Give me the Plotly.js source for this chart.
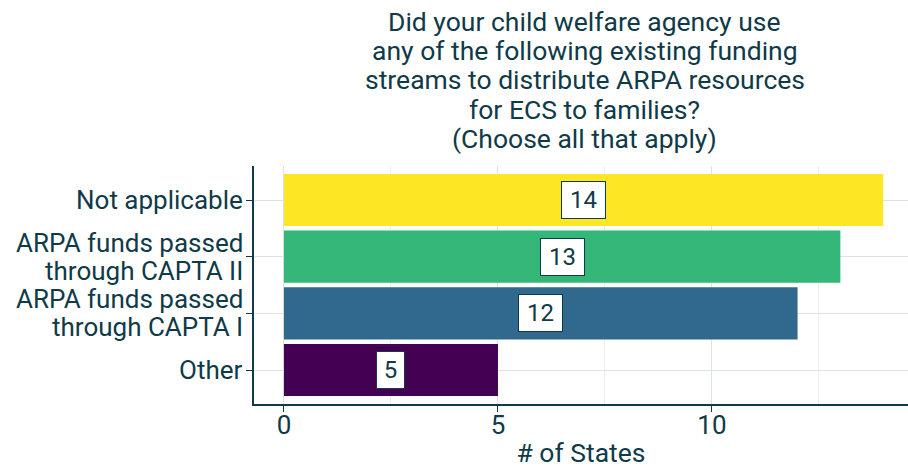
<!DOCTYPE html>
<html><head><meta charset="utf-8">
<script src="https://cdn.plot.ly/plotly-3.0.1.min.js"></script>
<style>html,body{margin:0;padding:0;background:#fff;}#chart{width:908px;height:468px;}</style>
</head><body><div id="chart"></div>
<script>
const categories = ["Other", "ARPA funds passed<br>through CAPTA I", "ARPA funds passed<br>through CAPTA II", "Not applicable"];
const values = [5, 12, 13, 14];
const barColors = ["#440154", "#31688E", "#35B779", "#FDE725"];
const titleLines = ["Did your child welfare agency use", "any of the following existing funding",
  "streams to distribute ARPA resources", "for ECS to families?", "(Choose all that apply)"];
const xTickVals = [0, 5, 10];
const xTickText = ["0", "5", "10"];
const textColor = "#0f3a48";

const trace = {
  type: "bar", orientation: "h",
  y: categories, x: values,
  marker: {color: barColors, line: {width: 0}},
  width: 0.92, hoverinfo: "none"
};
const annotations = values.map((v, i) => ({
  x: v / 2, y: categories[i], xref: "x", yref: "y",
  text: String(v), showarrow: false,
  width: String(v).length === 1 ? 19 : 35,
  font: {family: "Roboto", size: 24, color: textColor},
  bgcolor: "#ffffff", bordercolor: textColor, borderwidth: 1, borderpad: 4
}));
// Title lines, placed one per line for tight line spacing
const plotTop = 166, plotH = 238;
titleLines.forEach((t, i) => {
  const py = 22 + i * 29;
  annotations.push({
    text: t, xref: "paper", yref: "paper", x: 0.5055, y: (plotTop + plotH - py) / plotH,
    xanchor: "center", yanchor: "middle", showarrow: false,
    font: {family: "Roboto", size: 26.5, color: textColor}
  });
});
// Category labels, one annotation per line (tight line spacing as in the reference)
const lineOffset = 0.247;
categories.forEach((c, i) => {
  const parts = c.split("<br>");
  parts.forEach((p, j) => {
    const off = parts.length === 1 ? 0 : (j === 0 ? lineOffset : -lineOffset);
    annotations.push({
      text: p, xref: "paper", yref: "y", x: -0.0135, y: i + off,
      xanchor: "right", yanchor: "middle", showarrow: false,
      font: {family: "Roboto", size: 26, color: textColor}
    });
  });
});
const layout = {
  width: 908, height: 468,
  margin: {l: 254, r: 0, t: 166, b: 64},
  paper_bgcolor: "#fff", plot_bgcolor: "#fff",
  font: {family: "Roboto", color: textColor},
  xaxis: {range: [-0.7, 14.58], tickvals: xTickVals, ticktext: xTickText,
          showgrid: true, gridcolor: "#dde2e4", gridwidth: 1,
          minor: {tickvals: [2.5, 7.5, 12.5], showgrid: true, gridcolor: "#eaeeef", gridwidth: 1},
          zeroline: false, showline: true, linecolor: textColor, linewidth: 2,
          ticks: "outside", ticklen: 6, tickcolor: textColor, tickwidth: 1,
          ticklabelstandoff: -9,
          tickfont: {family: "Roboto", size: 26, color: textColor},
          title: {text: "# of States", font: {family: "Roboto", size: 26.5, color: textColor}, standoff: 10}},
  yaxis: {type: "category", categoryorder: "array", categoryarray: categories,
          range: [-0.6, 3.6], showgrid: true, gridcolor: "#dde2e4",
          showline: true, linecolor: textColor, linewidth: 2,
          ticks: "outside", ticklen: 6, tickcolor: textColor, tickwidth: 1,
          showticklabels: false, automargin: false},
  annotations: annotations,
  bargap: 0.08, showlegend: false
};
Plotly.newPlot("chart", [trace], layout, {displayModeBar: false, staticPlot: true});
</script></body></html>
